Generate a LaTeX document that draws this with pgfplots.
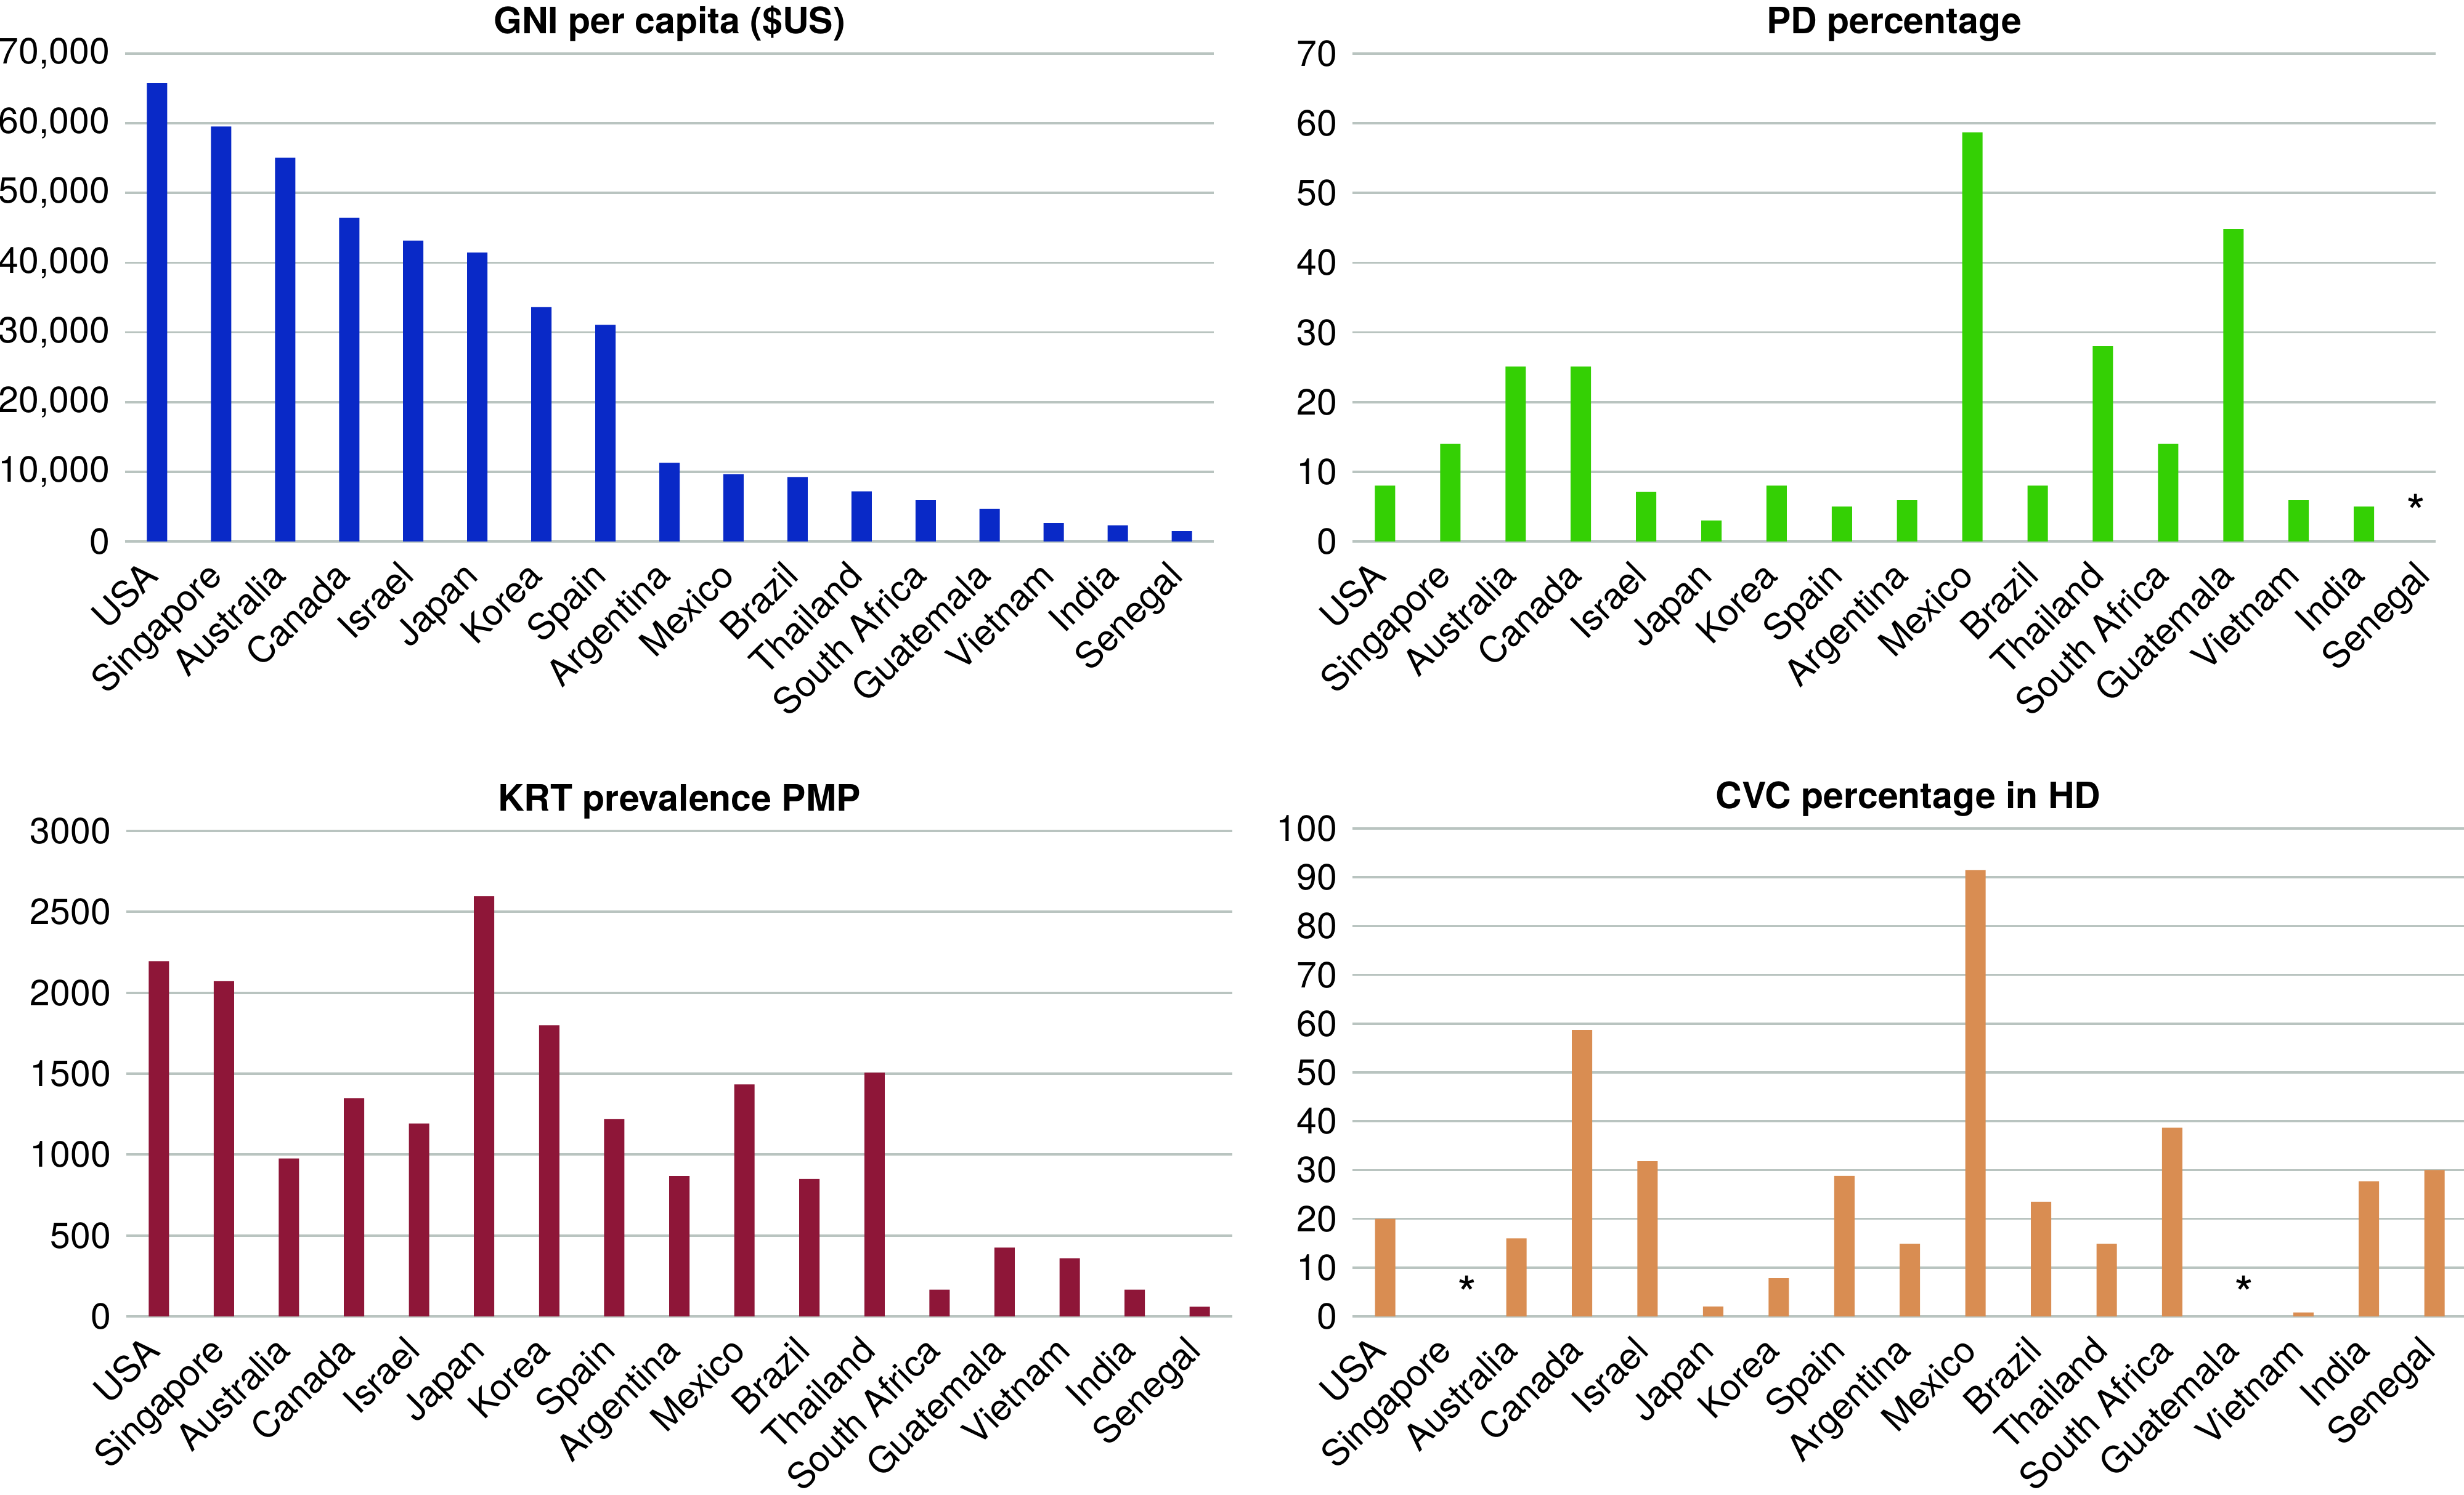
\documentclass[border=0pt]{standalone}
\usepackage{pgfplots}
\pgfplotsset{compat=1.18}
\usepackage{fontspec}
\setmainfont{TeX Gyre Heros}
\definecolor{gridc}{RGB}{185,196,192}
\definecolor{cblue}{RGB}{9,41,199}
\definecolor{cgreen}{RGB}{52,208,4}
\definecolor{cmaroon}{RGB}{142,22,56}
\definecolor{corange}{RGB}{217,141,82}
\newcommand{\lblfont}{\fontsize{11.8}{14}\selectfont}
\newcommand{\astfont}{\fontsize{16}{18}\selectfont}
\pgfplotsset{
  panel/.style={
    scale only axis,
    anchor=south west,
    xmin=-0.5,
    ymin=0,
    axis line style={draw=none},
    major tick length=0pt,
    ymajorgrids,
    grid style={draw=gridc, line width=0.75pt},
    xtick={0,...,16},
    xticklabels={USA,Singapore,Australia,Canada,Israel,Japan,Korea,Spain,Argentina,Mexico,Brazil,Thailand,South Africa,Guatemala,Vietnam,India,Senegal},
    tick label style={font=\lblfont},
    xticklabel style={xshift=1pt, yshift=-11.8pt, rotate=45, anchor=base east, inner sep=0pt},
    yticklabel style={anchor=east, inner sep=0pt, xshift=-4.8pt},
    scaled y ticks=false,
    /pgf/number format/assume math mode=true,
    title style={at={(0.5,1)}, anchor=base, yshift=0.6pt, font=\lblfont\bfseries},
    ybar, bar width=6.6pt, bar shift=0pt,
    clip=false,
  },
}
\begin{document}
\begin{tikzpicture}
\useasboundingbox (0,0) rectangle (799.8pt,485.2pt);
% Top left
\begin{axis}[panel, at={(40.6pt,309.4pt)}, width=353.4pt, height=158.4pt,
  xmax=16.5, ymax=70000, ytick={0,10000,...,70000},
  yticklabel style={/pgf/number format/1000 sep={,}},
  title={GNI per capita (\$US)}]
\addplot[fill=cblue, draw=none] coordinates {(0,65760) (1,59550) (2,55070) (3,46430) (4,43170) (5,41470) (6,33650) (7,31070) (8,11280) (9,9650) (10,9250) (11,7200) (12,5910) (13,4690) (14,2650) (15,2310) (16,1500)};
\end{axis}
% Top right
\begin{axis}[panel, at={(439pt,309.4pt)}, width=351.6pt, height=158.4pt,
  xmax=16.1, ymax=70, ytick={0,10,...,70},
  title={PD percentage}]
\addplot[fill=cgreen, draw=none] coordinates {(0,8) (1,14) (2,25.1) (3,25.1) (4,7.1) (5,3) (6,8) (7,5) (8,5.9) (9,58.7) (10,8) (11,28) (12,14) (13,44.8) (14,5.9) (15,5)};
\node[font=\astfont, anchor=base, inner sep=0pt] at (axis cs:15.8,1.6) {*};
\end{axis}
% Bottom left
\begin{axis}[panel, at={(41pt,57.8pt)}, width=359pt, height=157.6pt,
  xmax=16.5, ymax=3000, ytick={0,500,...,3000},
  yticklabel style={/pgf/number format/1000 sep={}},
  title={KRT prevalence PMP}]
\addplot[fill=cmaroon, draw=none] coordinates {(0,2195) (1,2072) (2,976) (3,1347) (4,1192) (5,2596) (6,1799) (7,1219) (8,868) (9,1434) (10,850) (11,1506) (12,165) (13,425) (14,359) (15,165) (16,60)};
\end{axis}
% Bottom right
\begin{axis}[panel, at={(439pt,57.8pt)}, width=360.8pt, height=158.4pt,
  xmax=16.45, ymax=100, ytick={0,10,...,100},
  title={CVC percentage in HD}]
\addplot[fill=corange, draw=none] coordinates {(0,20) (2,16) (3,58.7) (4,31.8) (5,2) (6,7.8) (7,28.8) (8,14.9) (9,91.5) (10,23.5) (11,14.9) (12,38.7) (14,0.8) (15,27.7) (16,30)};
\node[font=\astfont, anchor=base, inner sep=0pt] at (axis cs:1.25,0.9) {*};
\node[font=\astfont, anchor=base, inner sep=0pt] at (axis cs:13.1,0.9) {*};
\end{axis}
\end{tikzpicture}
\end{document}
